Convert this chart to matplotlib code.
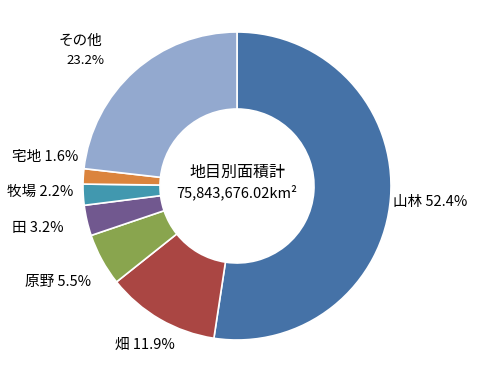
import matplotlib
matplotlib.use("Agg")
import matplotlib.pyplot as plt

plt.rcParams["font.family"] = ["Noto Sans CJK JP", "DejaVu Sans"]

# ----------------------------------------------------
# Data
# ----------------------------------------------------

categories = ["山林", "畑", "原野", "田", "牧場", "宅地", "その他"]
shares = [52.4, 11.9, 5.5, 3.2, 2.2, 1.6, 23.2]
colors = ["#4572A7", "#AA4643", "#89A54E", "#71588F", "#4198AF", "#DB843D", "#93A9CF"]
center_title = "地目別面積計"
center_total = "75,843,676.02km²"

# label anchor positions in pixels (layout only)
label_px = [(430, 202), (145, 345), (58, 282), (38, 228), (40, 192), (45, 157), (85, 50)]

W, H = 478, 380
cx, cy, r = 237, 186, 154

fig = plt.figure(figsize=(W / 100, H / 100), dpi=100)
ax = fig.add_axes([(cx - r) / W, (H - cy - r) / H, 2 * r / W, 2 * r / H])

ax.pie(
    shares,
    colors=colors,
    startangle=90,
    counterclock=False,
    radius=1.0,
    wedgeprops=dict(width=0.5, edgecolor="white", linewidth=1.2),
)
ax.set_xlim(-1, 1)
ax.set_ylim(-1, 1)
ax.set_aspect("equal")
ax.axis("off")

# ----------------------------------------------------
# Labels
# ----------------------------------------------------

for name, val, (px, py) in zip(categories, shares, label_px):
    x = (px - cx) / r
    y = (cy - py) / r
    if name == "その他":
        ax.text(x - 0.03, y + 0.06, name, ha="center", va="center", fontsize=10.5)
        ax.text(x, y - 0.07, f"{val}%", ha="center", va="center", fontsize=9.5)
    else:
        ax.text(x, y, f"{name} {val}%", ha="center", va="center", fontsize=10.5)

ax.text(0, 0.09, center_title, ha="center", va="center", fontsize=11.5)
ax.text(0, -0.04, center_total, ha="center", va="center", fontsize=10.5)

fig.savefig("out.png", dpi=100)
